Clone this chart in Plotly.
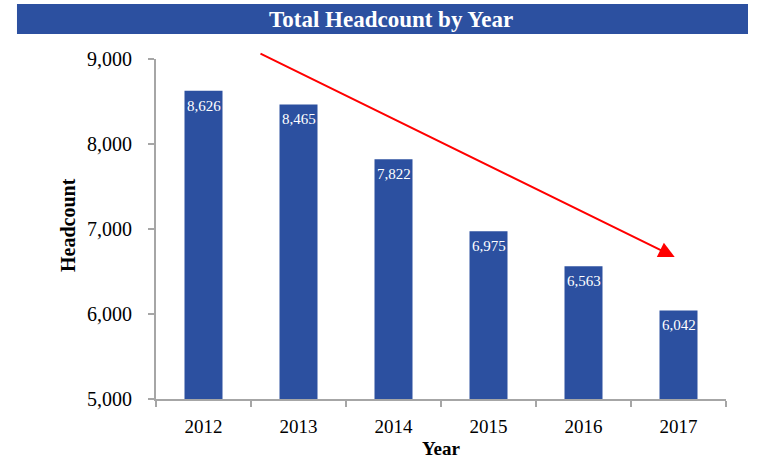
import plotly.graph_objects as go

years = ["2012", "2013", "2014", "2015", "2016", "2017"]
headcount = [8626, 8465, 7822, 6975, 6563, 6042]
y_ticks = [5000, 6000, 7000, 8000, 9000]

BLUE = "#2C50A0"
AXIS = "#A6A6A6"
FONT = "Liberation Serif, Times New Roman, serif"

fig = go.Figure()
fig.add_trace(go.Bar(
    x=years, y=headcount,
    marker=dict(color=BLUE, line=dict(width=0)),
    hoverinfo="skip",
))

# value labels inside bar tops
for i, v in enumerate(headcount):
    fig.add_annotation(x=i, y=v, xref="x", yref="y", text=f"{v:,}",
                       showarrow=False, yanchor="middle", yshift=-15,
                       font=dict(color="white", size=15, family=FONT))

fig.update_layout(
    width=761, height=462,
    margin=dict(l=156, r=35, t=59, b=63, autoexpand=False),
    paper_bgcolor="white", plot_bgcolor="white",
    bargap=0.6, showlegend=False,
    font=dict(family=FONT, color="black"),
    xaxis=dict(
        type="category", range=[-0.5, 5.5], automargin=False,
        showline=True, linecolor=AXIS, linewidth=2,
        ticks="outside", tickson="boundaries", ticklen=6, tickcolor=AXIS, tickwidth=2,
        tickfont=dict(size=19, family=FONT), ticklabelstandoff=9, tickangle=0,
        showgrid=False, zeroline=False,
    ),
    yaxis=dict(
        range=[5000, 9000], tickvals=y_ticks, automargin=False,
        ticktext=[f"{v:,}" for v in y_ticks],
        showline=True, linecolor=AXIS, linewidth=2,
        ticks="outside", ticklen=6, tickcolor=AXIS, tickwidth=2,
        tickfont=dict(size=20, family=FONT), ticklabelstandoff=12,
        showgrid=False, zeroline=False,
    ),
)

# axis titles
fig.add_annotation(xref="paper", yref="paper", x=0.5, y=-0.147,
                   text="<b>Year</b>", showarrow=False,
                   font=dict(size=19, family=FONT), xanchor="center", yanchor="middle")
fig.add_annotation(xref="paper", yref="paper", x=-0.1544, y=0.5118,
                   text="<b>Headcount</b>", showarrow=False, textangle=-90,
                   font=dict(size=20, family=FONT), xanchor="center", yanchor="middle")

# title bar
fig.add_shape(type="rect", xref="paper", yref="paper",
              x0=-0.2439, x1=1.0386, y0=1.0735, y1=1.162,
              fillcolor=BLUE, line=dict(width=0), layer="below")
fig.add_annotation(xref="paper", yref="paper", x=0.412, y=1.1176,
                   text="<b>Total Headcount by Year</b>", showarrow=False,
                   font=dict(size=23, color="white", family=FONT),
                   xanchor="center", yanchor="middle")

# trend arrow
fig.add_annotation(x=4.96, y=6671, ax=0.584, ay=9071,
                   xref="x", yref="y", axref="x", ayref="y",
                   text="", showarrow=True, arrowhead=2, arrowsize=1.6,
                   arrowwidth=2, arrowcolor="#FF0000")

fig.write_html("out.html", config={"displayModeBar": False},
               post_script="document.body.style.margin='0';")
